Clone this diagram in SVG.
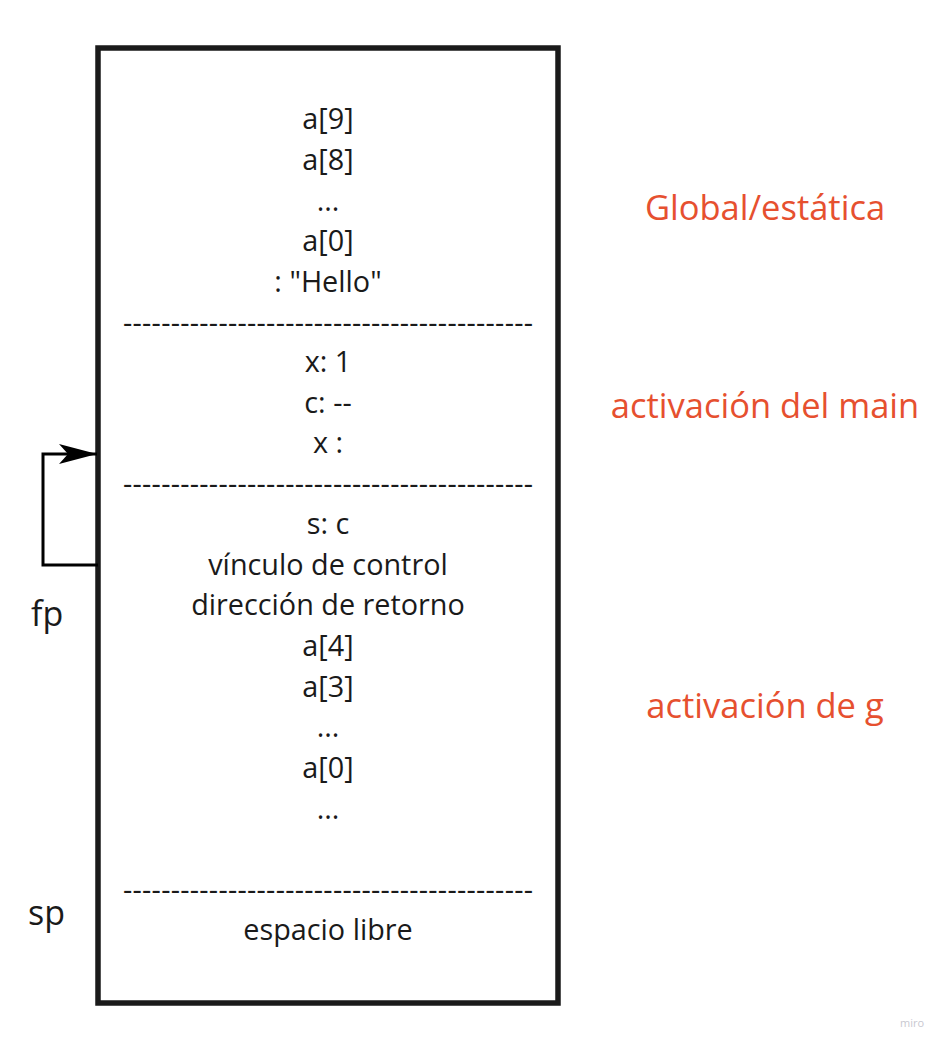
<svg xmlns="http://www.w3.org/2000/svg" width="952" height="1049" viewBox="0 0 952 1049">
<style>
.t{font-family:"Open Sans","Noto Sans",sans-serif;font-size:28.8px;fill:#1a1a1a;text-anchor:middle}
.r{font-family:"Open Sans","Noto Sans",sans-serif;font-size:34.5px;fill:#e6502f;text-anchor:middle}
.l{font-family:"Open Sans","Noto Sans",sans-serif;font-size:34px;fill:#1a1a1a}
</style>
<defs>
<marker id="ah" markerWidth="40" markerHeight="22" refX="38" refY="11" orient="auto" markerUnits="userSpaceOnUse">
<path d="M0,1 L38,11 L0,21 L9,11 Z" fill="#000"/>
</marker>
</defs>
<rect width="952" height="1049" fill="#fff"/>
<g id="stack">
<rect x="98" y="48" width="460" height="955" fill="#fff" stroke="#1a1a1a" stroke-width="5.5"/>
<text class="t" x="328" y="129">a[9]</text>
<text class="t" x="328" y="170">a[8]</text>
<text class="t" x="328" y="211">...</text>
<text class="t" x="328" y="251">a[0]</text>
<text class="t" x="328" y="292">: "Hello"</text>
<text class="t" x="328" y="333" textLength="410" lengthAdjust="spacing">-------------------------------------------</text>
<text class="t" x="328" y="372">x: 1</text>
<text class="t" x="328" y="413">c: --</text>
<text class="t" x="328" y="453">x :</text>
<text class="t" x="328" y="494" textLength="410" lengthAdjust="spacing">-------------------------------------------</text>
<text class="t" x="328" y="534">s: c</text>
<text class="t" x="328" y="575">vínculo de control</text>
<text class="t" x="328" y="615">dirección de retorno</text>
<text class="t" x="328" y="656">a[4]</text>
<text class="t" x="328" y="697">a[3]</text>
<text class="t" x="328" y="737">...</text>
<text class="t" x="328" y="778">a[0]</text>
<text class="t" x="328" y="819">...</text>
<text class="t" x="328" y="900" textLength="410" lengthAdjust="spacing">-------------------------------------------</text>
<text class="t" x="328" y="940">espacio libre</text>
</g>
<g id="labels">
<text class="r" x="765" y="220">Global/estática</text>
<text class="r" x="765" y="418">activación del main</text>
<text class="r" x="765" y="718">activación de g</text>
<text class="l" x="31" y="626">fp</text>
<text class="l" x="28" y="925">sp</text>
</g>
<g id="connectors">
<path d="M98,565 H43 V454 H97" fill="none" stroke="#000" stroke-width="3" marker-end="url(#ah)"/>
</g>
<text x="912" y="1027" font-family="Open Sans,sans-serif" font-size="11" fill="#c8c8d0" text-anchor="middle">miro</text>
</svg>
